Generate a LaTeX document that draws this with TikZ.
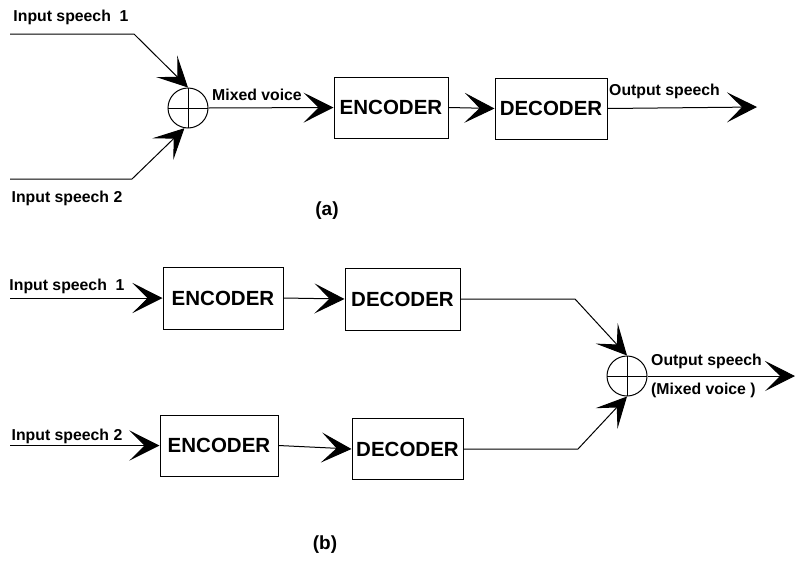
\documentclass[tikz,border=0pt]{standalone}
\usepackage{fontspec}
\setmainfont{Liberation Sans}
\usetikzlibrary{arrows.meta,positioning}

\begin{document}
\begin{tikzpicture}[x=1pt,y=-1pt,
		Block/.style={rectangle,draw,line width=1pt,inner sep=0pt,font=\fontsize{20.5}{24}\selectfont\bfseries},
		Sum/.style={circle,draw,line width=1pt,minimum size=40pt,inner sep=0pt,
			path picture={\draw[line width=1pt] (path picture bounding box.north) -- (path picture bounding box.south)
				(path picture bounding box.west) -- (path picture bounding box.east);}},
		Label/.style={inner sep=0pt,font=\fontsize{15.8}{18}\selectfont\bfseries},
		Arrow/.style={-{Stealth[length=30pt,width=30pt,inset=15pt]},line width=1pt}]
		\useasboundingbox (0,0) rectangle (795,584);
		% (a) nodes
		\node[Sum] (SumA) at (188,108) {};
		\node[Block,minimum width=114pt,minimum height=61pt] (EncA) at (391,107.5) {ENCODER};
		\node[Block,minimum width=112pt,minimum height=61pt] (DecA) at (551,108.5) {DECODER};
		\coordinate (InA1) at (10,34);
		\coordinate (BendA1) at (134,34);
		\coordinate (InA2) at (10,179);
		\coordinate (BendA2) at (132,179);
		\coordinate (OutA) at (757,107);
		\node[Label] (LabInA1) at (71,17) {Input speech\ \ 1};
		\node[Label] (LabInA2) at (67,198) {Input speech 2};
		\node[Label,anchor=south west] (LabMixA) at (212,101) {Mixed voice};
		\node[Label,anchor=south west] (LabOutA) at (609,99) {Output speech};
		\node[font=\fontsize{19}{22}\selectfont\bfseries] (CapA) at (327,211) {(a)};
		% (a) connections
		\draw [Arrow] (InA1) -- (BendA1) -- (SumA.north);
		\draw [Arrow] (InA2) -- (BendA2) -- (SumA.260);
		\draw [Arrow] (SumA.east) -- (EncA.west);
		\draw [Arrow] (EncA.east) -- (DecA.west);
		\draw [Arrow] (DecA.east) -- (OutA);
		% (b) nodes
		\node[Block,minimum width=120pt,minimum height=62pt] (EncB1) at (223,298) {ENCODER};
		\node[Block,minimum width=115pt,minimum height=62pt] (DecB1) at (402.5,299) {DECODER};
		\node[Block,minimum width=118pt,minimum height=61pt] (EncB2) at (219,445.5) {ENCODER};
		\node[Block,minimum width=111pt,minimum height=61pt] (DecB2) at (407.5,449) {DECODER};
		\node[Sum] (SumB) at (627,376) {};
		\coordinate (InB1) at (10,298);
		\coordinate (InB2) at (10,445.5);
		\coordinate (BendB1) at (575,299);
		\coordinate (BendB2) at (578,449);
		\coordinate (OutB) at (795,376);
		\node[Label] (LabInB1) at (67,286) {Input speech\ \ 1};
		\node[Label] (LabInB2) at (67,436) {Input speech 2};
		\node[Label,anchor=south west] (LabOutB) at (651,369) {Output speech};
		\node[Label,anchor=north west] (LabMixB) at (651,383) {(Mixed voice )};
		\node[font=\fontsize{19}{22}\selectfont\bfseries] (CapB) at (325,545) {(b)};
		% (b) connections
		\draw [Arrow] (InB1) -- (EncB1.west);
		\draw [Arrow] (EncB1.east) -- (DecB1.west);
		\draw [Arrow] (InB2) -- (EncB2.west);
		\draw [Arrow] (EncB2.east) -- (DecB2.west);
		\draw [Arrow] (DecB1.east) -- (BendB1) -- (SumB.north);
		\draw [Arrow] (DecB2.east) -- (BendB2) -- (SumB.south);
		\draw [Arrow] (SumB.east) -- (OutB);
	\end{tikzpicture}
\end{document}
